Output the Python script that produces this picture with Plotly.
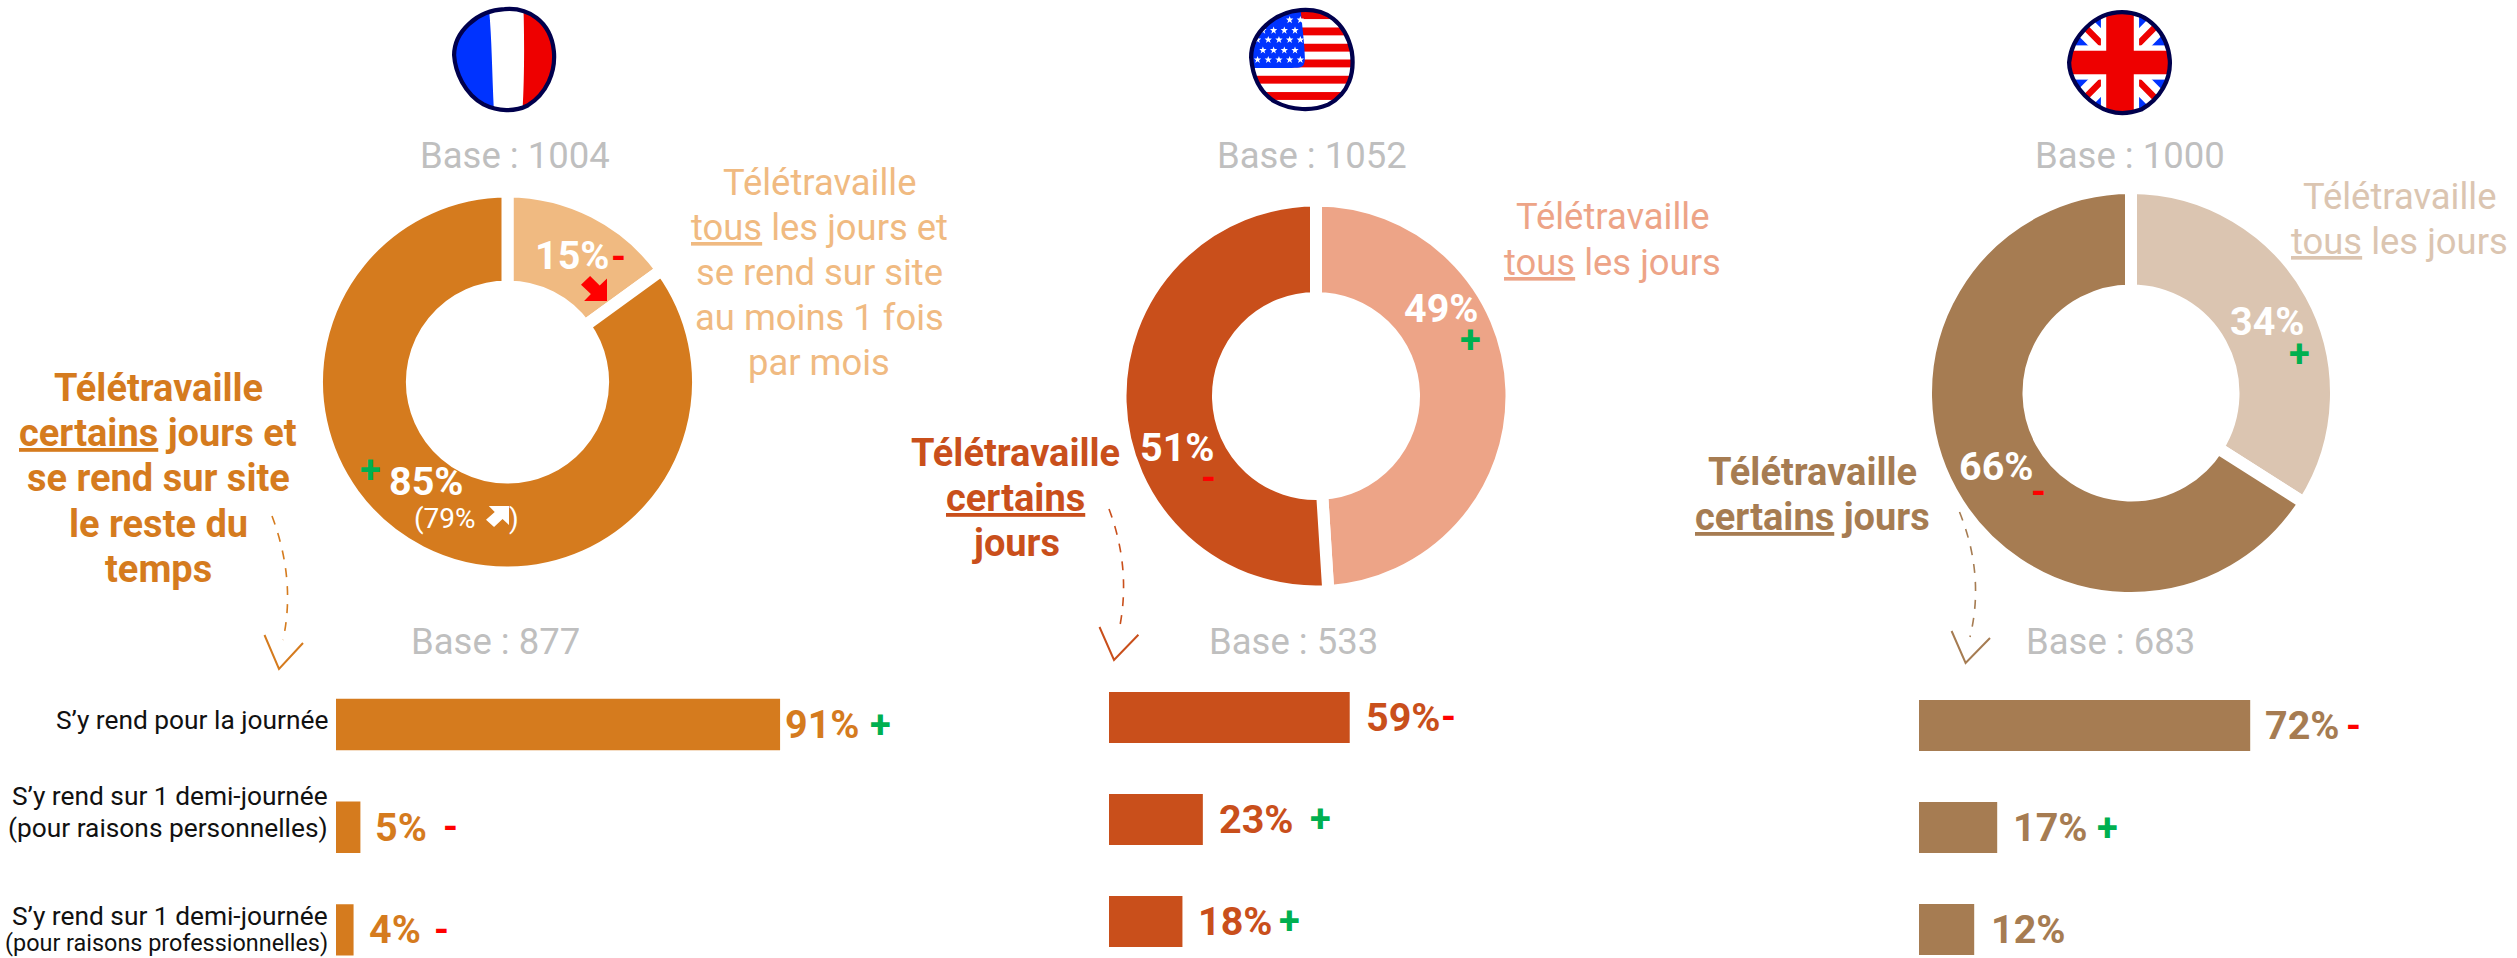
import base64
import plotly.graph_objects as go

# ---------- data ----------
CATEGORIES = ["S’y rend pour la journée",
              "S’y rend sur 1 demi-journée (pour raisons personnelles)",
              "S’y rend sur 1 demi-journée (pour raisons professionnelles)"]
CATEGORY_LINES = [["S’y rend pour la journée"],
                  ["S’y rend sur 1 demi-journée", "(pour raisons personnelles)"],
                  ["S’y rend sur 1 demi-journée", "(pour raisons professionnelles)"]]
SLICE_NAMES = ["Télétravaille tous les jours", "Télétravaille certains jours"]
FR_SPLIT = [15, 85]
US_SPLIT = [49, 51]
UK_SPLIT = [34, 66]
FR_BARS = [91, 5, 3.6]
US_BARS = [59, 23, 18]
UK_BARS = [72, 17, 12]
FR_BAR_LABELS = ["91%", "5%", "4%"]
US_BAR_LABELS = ["59%", "23%", "18%"]
UK_BAR_LABELS = ["72%", "17%", "12%"]
FR_BAR_SIGNS = ["+", "-", "-"]
US_BAR_SIGNS = ["-", "+", "+"]
UK_BAR_SIGNS = ["-", "+", ""]
BASES_TOP = ["Base : 1004", "Base : 1052", "Base : 1000"]
BASES_BOTTOM = ["Base : 877", "Base : 533", "Base : 683"]
U = '<span style="text-decoration:underline">%s</span>'
FR_TOUS = ["Télétravaille", U % "tous" + " les jours et", "se rend sur site", "au moins 1 fois", "par mois"]
FR_CERTAINS = ["Télétravaille", U % "certains" + " jours et", "se rend sur site", "le reste du", "temps"]
US_TOUS = ["Télétravaille", U % "tous" + " les jours"]
US_CERTAINS = ["Télétravaille", U % "certains", "jours"]
UK_TOUS = ["Télétravaille", U % "tous" + " les jours"]
UK_CERTAINS = ["Télétravaille", U % "certains" + " jours"]

# ---------- layout / style ----------
W, H = 2517, 958
FONT = "Roboto"
GREY, GREEN, RED = "#BFBFBF", "#00B050", "#FF0000"
FR_DARK, FR_LIGHT = "#D57B1E", "#F0BA81"
US_DARK, US_LIGHT = "#C94F1B", "#EDA487"
UK_DARK, UK_LIGHT = "#A67C52", "#DBC5B1"
GAP = 12
VAL_SIZE = 39.5
LIGHT_SIZE = 36.4
BOLD_SIZE = 38
PITCH = 45.2


def X(px):
    return px / W


def Y(py):
    return 1 - py / H


fig = go.Figure()
annotations, shapes, images = [], [], []


def txt(x, y, text, size, color, bold=False, **kw):
    annotations.append(dict(xref="paper", yref="paper", x=X(x), y=Y(y), text=text, showarrow=False,
                            font=dict(family=FONT, size=size, color=color, weight=700 if bold else 400),
                            xanchor=kw.pop("xanchor", "center"), yanchor="middle", **kw))


def block(x, y_first, lines, size, color, bold=False):
    for i, line in enumerate(lines):
        txt(x, y_first + i * PITCH, line, size, color, bold)


def svg_image(svg, x0, y0, x1, y1):
    uri = "data:image/svg+xml;base64," + base64.b64encode(svg.encode()).decode()
    images.append(dict(source=uri, xref="paper", yref="paper", x=X(x0), y=Y(y0), sizex=(x1 - x0) / W,
                       sizey=(y1 - y0) / H, xanchor="left", yanchor="top", sizing="stretch", layer="above"))


def donut(values, colors, cx, cy, r, r_in, name):
    R = r + GAP / 2
    fig.add_trace(go.Pie(values=values, labels=SLICE_NAMES, sort=False, direction="clockwise", rotation=0,
                         hole=(r_in - GAP / 2) / R, textinfo="none", hoverinfo="skip", showlegend=False,
                         name=name, marker=dict(colors=colors, line=dict(color="white", width=GAP)),
                         domain=dict(x=[X(cx - R), X(cx + R)], y=[Y(cy + R), Y(cy - R)])))


donut(FR_SPLIT, [FR_LIGHT, FR_DARK], 507.5, 382, 184.5, 101.6, "France")
donut(US_SPLIT, [US_LIGHT, US_DARK], 1316, 396, 189.5, 104, "USA")
donut(UK_SPLIT, [UK_LIGHT, UK_DARK], 2131, 393, 199, 108.5, "UK")


def bars(values, labels, signs, color, idx, x0, ppu, center, pitch, sign_dx, lab_gap):
    sfx = "" if idx == 1 else str(idx)
    xa, ya = "x" + sfx, "y" + sfx
    fig.add_trace(go.Bar(x=values, y=CATEGORIES, orientation="h", width=0.5, marker=dict(color=color, line=dict(width=0)),
                         xaxis=xa, yaxis=ya, hoverinfo="skip", showlegend=False))
    top = center - pitch / 2
    fig.update_layout({
        "xaxis" + sfx: dict(domain=[X(x0), X(x0 + 100 * ppu)], range=[0, 100], visible=False, fixedrange=True, anchor=ya),
        "yaxis" + sfx: dict(domain=[0, Y(top)], range=[(H - center) / pitch, -0.5], visible=False, fixedrange=True,
                            type="category", categoryorder="array", categoryarray=CATEGORIES, anchor=xa),
    })
    for i, (v, lab, sg) in enumerate(zip(values, labels, signs)):
        annotations.append(dict(xref=xa, yref=ya, x=v, y=i, text=lab, showarrow=False, xanchor="left", yanchor="middle",
                                xshift=lab_gap[i], yshift=0,
                                font=dict(family=FONT, size=VAL_SIZE, color=color, weight=700)))
        if sg:
            annotations.append(dict(xref=xa, yref=ya, x=v, y=i, text=sg, showarrow=False, xanchor="center", yanchor="middle",
                                    xshift=sign_dx[i], yshift=0,
                                    font=dict(family=FONT, size=38, color=GREEN if sg == "+" else RED, weight=700)))


bars(FR_BARS, FR_BAR_LABELS, FR_BAR_SIGNS, FR_DARK, 1, 336, 4.88, 724.5, 102.7, [100, 90, 88], [3, 13, 13])
bars(US_BARS, US_BAR_LABELS, US_BAR_SIGNS, US_DARK, 2, 1109, 4.08, 717.4, 102, [99, 118, 107], [14, 14, 14])
bars(UK_BARS, UK_BAR_LABELS, UK_BAR_SIGNS, UK_DARK, 3, 1919, 4.6, 725.5, 102, [103, 110, 0], [13, 14, 15])

# category labels, right aligned against the France bars
LABEL_SHIFTS = [[4.5], [31, -1], [14, -13]]
LABEL_SIZES = [[26.3], [26.3, 26.3], [26.3, 23.4]]
for i, lines in enumerate(CATEGORY_LINES):
    for line, dy, size in zip(lines, LABEL_SHIFTS[i], LABEL_SIZES[i]):
        annotations.append(dict(xref="x", yref="y", x=0, y=i, text=line, showarrow=False, xanchor="right", yanchor="middle",
                                xshift=-6, yshift=dy, font=dict(family=FONT, size=size, color="#111111")))

# bases
for x, t in zip([515, 1312, 2130], BASES_TOP):
    txt(x, 155, t, 36.5, GREY)
for x, t in zip([495, 1293.4, 2110], BASES_BOTTOM):
    txt(x, 641, t, 36.5, GREY)

block(819, 182, FR_TOUS, LIGHT_SIZE, FR_LIGHT)
block(158, 388, FR_CERTAINS, BOLD_SIZE, FR_DARK, True)
block(1612, 217, US_TOUS, LIGHT_SIZE, US_LIGHT)
block(1015.5, 453, US_CERTAINS, BOLD_SIZE, US_DARK, True)
block(2399, 196.4, UK_TOUS, LIGHT_SIZE, UK_LIGHT)
block(1812, 472, UK_CERTAINS, BOLD_SIZE, UK_DARK, True)

# values inside the donuts
txt(572, 256, "15%", VAL_SIZE, "white", True)
txt(618, 257, "-", 38, RED, True)
txt(426, 481, "85%", VAL_SIZE, "white", True)
txt(370, 470, "+", 38, GREEN, True)
txt(445, 518, "(79%", 28, "white")
txt(514, 518, ")", 28, "white")
txt(1441, 308, "49%", VAL_SIZE, "white", True)
txt(1470, 340, "+", 38, GREEN, True)
txt(1177, 447, "51%", VAL_SIZE, "white", True)
txt(1208.6, 477.5, "-", 38, RED, True)
txt(2267, 321, "34%", VAL_SIZE, "white", True)
txt(2299, 354, "+", 38, GREEN, True)
txt(1996, 466, "66%", VAL_SIZE, "white", True)
txt(2038, 492, "-", 38, RED, True)

# small trend arrows
ARROW_DOWN = "100,100 12,100 38,72 0,35 35,0 72,38 100,10"
ARROW_UP = "100,0 100,90 72,62 35,100 0,65 38,28 12,0"
for pts, col, box in [(ARROW_DOWN, RED, (581, 276, 607, 301)), (ARROW_UP, "white", (486, 506, 509, 527))]:
    svg_image(f'<svg xmlns="http://www.w3.org/2000/svg" viewBox="0 0 100 100" preserveAspectRatio="none">'
              f'<polygon points="{pts}" fill="{col}"/></svg>', *box)


# curved dashed arrows
def curve(pts, head, color):
    (a, b, c) = pts
    path = f"M{X(a[0])},{Y(a[1])} Q{X(b[0])},{Y(b[1])} {X(c[0])},{Y(c[1])}"
    shapes.append(dict(type="path", xref="paper", yref="paper", path=path, line=dict(color=color, width=1.6, dash="dash")))
    path = "M" + " L".join(f"{X(p[0])},{Y(p[1])}" for p in head)
    shapes.append(dict(type="path", xref="paper", yref="paper", path=path, line=dict(color=color, width=2)))


curve([(272, 516), (296, 580), (283, 640)], [(264.5, 635), (279, 669), (303, 643)], FR_DARK)
curve([(1109, 509), (1132, 570), (1118.7, 632)], [(1099.5, 627), (1114, 660), (1138.4, 634.7)], US_DARK)
curve([(1959.5, 512), (1985, 575), (1970, 637)], [(1951.6, 631), (1965.6, 663), (1990, 638)], UK_DARK)

# flags
BLOBS = {
    "fr": "M50 3 C72 1 94 14 97 42 C99 62 90 82 72 93 C60 99 44 99 30 92 C12 82 3 62 2 46 C2 24 24 4 50 3Z",
    "us": "M48 3 C72 1 90 14 96 42 C99 62 94 82 74 93 C60 99 40 99 24 90 C8 80 3 62 2 48 C2 24 24 5 48 3Z",
    "uk": "M52 3 C76 3 95 22 97 48 C98 66 88 84 70 94 C56 99 42 99 28 90 C10 78 2 62 2 50 C4 26 26 3 52 3Z",
}
NAVY, BLUE, FRED = "#00004D", "#0033FF", "#EE0000"


def flag(key, inner, box):
    blob = BLOBS[key]
    svg = ('<svg xmlns="http://www.w3.org/2000/svg" viewBox="0 0 100 100" preserveAspectRatio="none">'
           f'<defs><clipPath id="c"><path d="{blob}"/></clipPath></defs>'
           f'<g clip-path="url(#c)"><rect width="100" height="100" fill="white"/>{inner}</g>'
           f'<path d="{blob}" fill="none" stroke="{NAVY}" stroke-width="4"/></svg>')
    svg_image(svg, *box)


flag("fr", f'<path d="M0 0H35 C38 30 38 60 40 100H0Z" fill="{BLUE}"/><path d="M68 0 C69 30 69 70 67 100H100V0Z" fill="{FRED}"/>',
     (452, 6, 557, 113))

stripes = "".join(f'<rect x="0" y="{y}" width="100" height="7.5" fill="{FRED}"/>' for y in [4, 19.5, 35, 50, 65.5, 81])
stars = ""
for r, yy in enumerate([12, 22, 31, 41, 50]):
    for k in range(5):
        xx = 8 + k * 10 + (5 if r % 2 else 0)
        if xx > 50 or (r == 0 and xx < 38):
            continue
        s = 3.4
        stars += (f'<polygon fill="white" points="{xx},{yy-s} {xx+.9},{yy-1} {xx+s},{yy-1} {xx+1.4},{yy+.8} '
                  f'{xx+2.2},{yy+s} {xx},{yy+1.7} {xx-2.2},{yy+s} {xx-1.4},{yy+.8} {xx-s},{yy-1} {xx-.9},{yy-1}"/>')
flag("us", stripes + f'<path d="M0 0H48 C50 20 53 45 52 52 C51 58 48 58 40 58H0Z" fill="{BLUE}"/>' + stars, (1249, 7, 1356, 112))

flag("uk", f'<rect width="100" height="100" fill="{BLUE}"/>'
     '<path d="M0 0L100 100M100 0L0 100" stroke="white" stroke-width="20"/>'
     f'<path d="M0 0L100 100M100 0L0 100" stroke="{FRED}" stroke-width="6"/>'
     '<rect x="32" width="36" height="100" fill="white"/><rect y="34" width="100" height="32" fill="white"/>'
     f'<rect x="37" width="26" height="100" fill="{FRED}"/><rect y="39" width="100" height="22" fill="{FRED}"/>',
     (2067, 9, 2173, 116))

fig.update_layout(width=W, height=H, margin=dict(l=0, r=0, t=0, b=0), paper_bgcolor="white", plot_bgcolor="rgba(0,0,0,0)",
                  barmode="overlay", showlegend=False, annotations=annotations, shapes=shapes, images=images,
                  font=dict(family=FONT))

fig.write_html("out.html", config={"displayModeBar": False},
               post_script="document.body.style.margin='0';document.documentElement.style.overflow='hidden';")
